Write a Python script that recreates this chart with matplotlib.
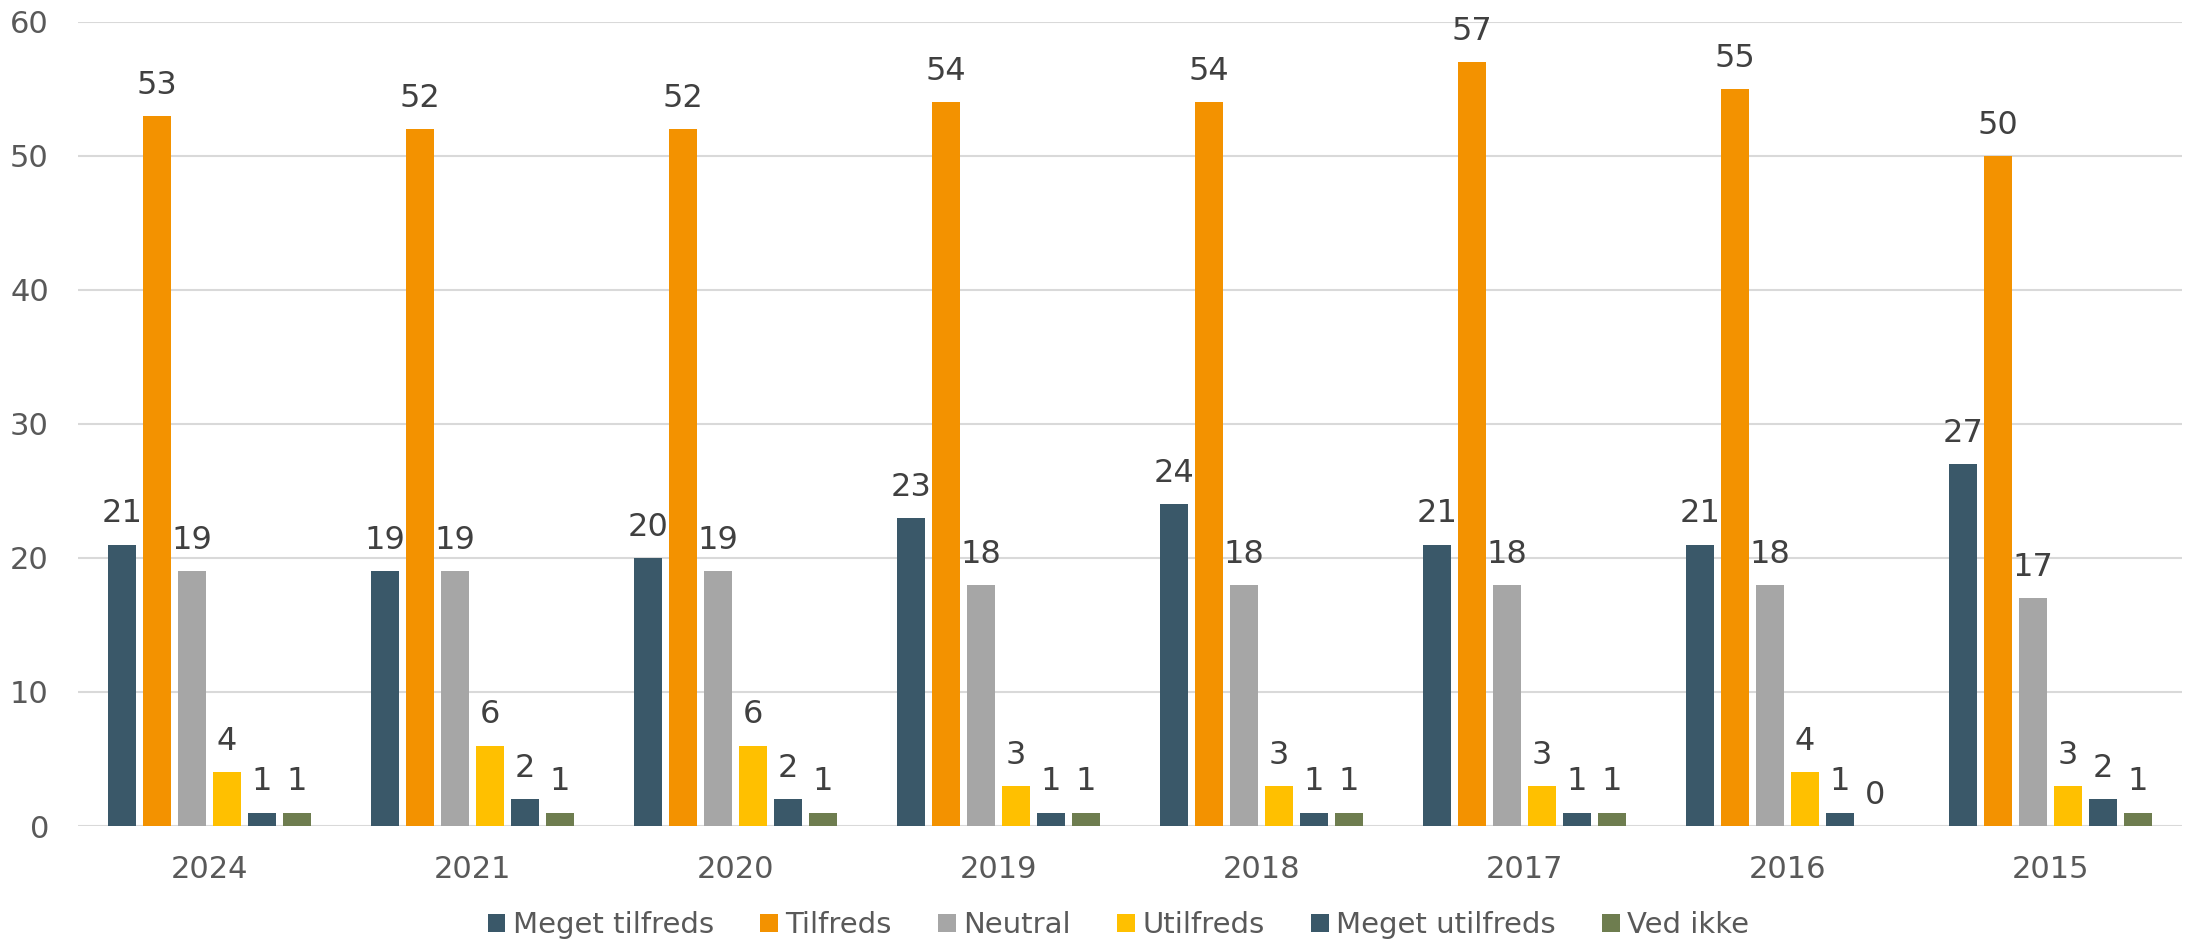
import matplotlib.pyplot as plt
import numpy as np

years = ['2024', '2021', '2020', '2019', '2018', '2017', '2016', '2015']
series_names = ['Meget tilfreds', 'Tilfreds', 'Neutral', 'Utilfreds', 'Meget utilfreds', 'Ved ikke']
meget_tilfreds = [21, 19, 20, 23, 24, 21, 21, 27]
tilfreds = [53, 52, 52, 54, 54, 57, 55, 50]
neutral = [19, 19, 19, 18, 18, 18, 18, 17]
utilfreds = [4, 6, 6, 3, 3, 3, 4, 3]
meget_utilfreds = [1, 2, 2, 1, 1, 1, 1, 2]
ved_ikke = [1, 1, 1, 1, 1, 1, 0, 1]

colors = ['#3A5869', '#F39200', '#A6A6A6', '#FFC000', '#3A5869', '#6E7D4F']

plt.rcParams['font.family'] = ['DejaVu Sans']

fig = plt.figure(figsize=(21.93, 9.44), dpi=100)
ax = fig.add_axes([0.0356, 0.125, 0.9594, 0.8517])

all_series = [meget_tilfreds, tilfreds, neutral, utilfreds, meget_utilfreds, ved_ikke]
x = np.arange(len(years))
pitch = 0.133
width = 0.104
for i, (name, vals) in enumerate(zip(series_names, all_series)):
    bars = ax.bar(x + (i - 2.5) * pitch, vals, width, color=colors[i], label=name, zorder=3)
    ax.bar_label(bars, padding=11, fontsize=23, color='#404040')

ax.set_xlim(-0.5, len(years) - 0.5)
ax.set_ylim(0, 60)
ax.set_yticks(range(0, 61, 10))
ax.set_xticks(x)
ax.set_xticklabels(years)
ax.tick_params(axis='both', length=0, labelsize=22, labelcolor='#595959')
ax.tick_params(axis='y', pad=21)
ax.tick_params(axis='x', pad=21)
ax.grid(axis='y', color='#D9D9D9', linewidth=1.5, zorder=0)
for s in ax.spines.values():
    s.set_visible(False)

fig.legend(loc='center', bbox_to_anchor=(0.51, 0.02), ncol=6, frameon=False,
           fontsize=21, labelcolor='#595959', handlelength=0.6, handleheight=0.6,
           handletextpad=0.25, columnspacing=1.6)

fig.savefig('out.png', dpi=100)
